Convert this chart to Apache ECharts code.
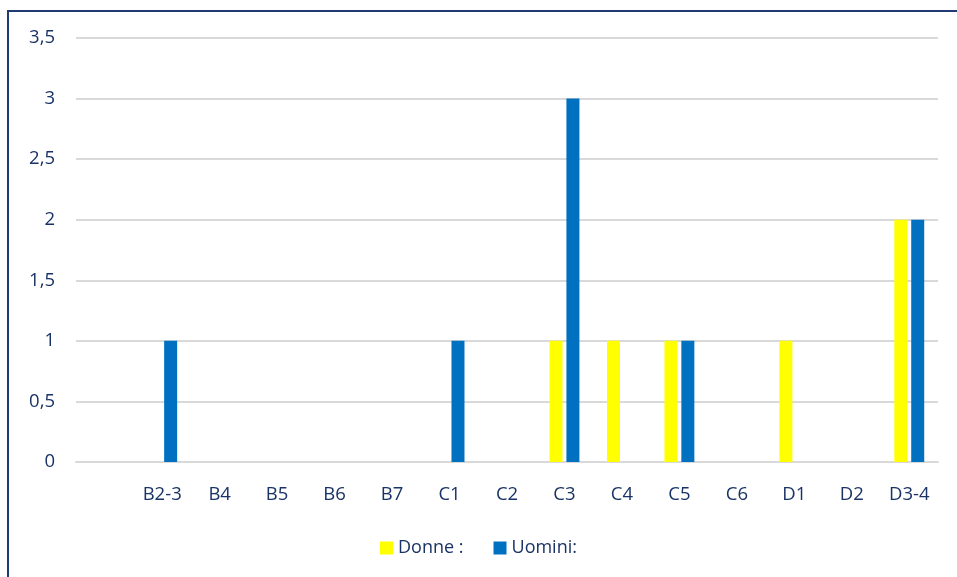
<!DOCTYPE html>
<html><head><meta charset="utf-8">
<script src="https://cdn.jsdelivr.net/npm/echarts@6/dist/echarts.min.js"></script>
<style>
html,body{margin:0;padding:0;background:#fff;}
#frame{position:absolute;left:7px;top:10px;width:960px;height:580px;border:2px solid #1f3b73;box-sizing:border-box;}
#c{position:absolute;left:0;top:0;width:957px;height:577px;}
</style></head>
<body>
<div id="frame"></div>
<div id="c"></div>
<script>
const categories = ['', 'B2-3', 'B4', 'B5', 'B6', 'B7', 'C1', 'C2', 'C3', 'C4', 'C5', 'C6', 'D1', 'D2', 'D3-4'];
const donne = [0, 0, 0, 0, 0, 0, 0, 0, 1, 1, 1, 0, 1, 0, 2];
const uomini = [0, 1, 0, 0, 0, 0, 1, 0, 3, 0, 1, 0, 0, 0, 2];
const yTicks = { min: 0, max: 3.5, interval: 0.5 };

const txt = '#1a3366';
const font = 'Open Sans';
const chart = echarts.init(document.getElementById('c'));
chart.setOption({
  animation: false,
  textStyle: { fontFamily: font },
  legend: {
    bottom: 15, left: 'center', itemWidth: 13, itemHeight: 13, itemGap: 30,
    icon: 'rect',
    textStyle: { color: txt, fontSize: 18, fontFamily: font },
    data: ['Donne :', 'Uomini:']
  },
  grid: { left: 76, right: 19, top: 38, bottom: 115 },
  xAxis: {
    type: 'category', data: categories,
    axisTick: { show: false },
    axisLine: { lineStyle: { color: '#d9d9d9', width: 2 } },
    axisLabel: { color: txt, fontSize: 18.5, margin: 23, interval: 0 }
  },
  yAxis: {
    type: 'value', min: yTicks.min, max: yTicks.max, interval: yTicks.interval,
    axisLine: { show: false }, axisTick: { show: false },
    splitLine: { lineStyle: { color: '#d9d9d9', width: 2 } },
    axisLabel: { color: txt, fontSize: 18.5, margin: 21,
      formatter: v => String(v).replace('.', ',') }
  },
  series: [
    { name: 'Donne :', type: 'bar', data: donne, barWidth: 13, barGap: '30%',
      itemStyle: { color: '#ffff00' } },
    { name: 'Uomini:', type: 'bar', data: uomini, barWidth: 13, barGap: '30%',
      itemStyle: { color: '#0070c0' } }
  ]
});
</script>
</body></html>
